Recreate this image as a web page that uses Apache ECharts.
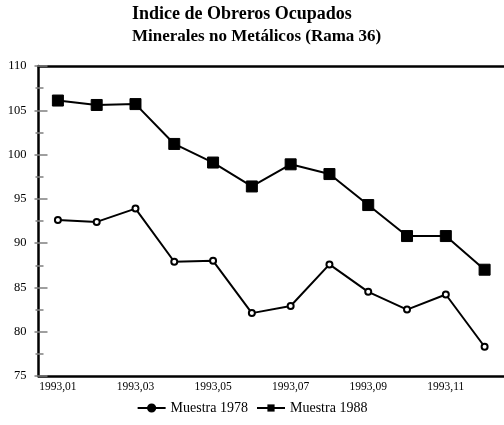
<!DOCTYPE html>
<html lang="es">
<head>
<meta charset="UTF-8">
<title>Indice de Obreros Ocupados</title>
<script src="https://cdn.jsdelivr.net/npm/echarts@6/dist/echarts.min.js"></script>
<style>
  html, body { margin: 0; padding: 0; background: #fff; }
</style>
</head>
<body>
<div id="main" style="width:504px;height:425px;"></div>
<script>
// meses (eje x)
var meses = ['1993,01', '1993,02', '1993,03', '1993,04', '1993,05', '1993,06',
             '1993,07', '1993,08', '1993,09', '1993,10', '1993,11', '1993,12'];
// series
var muestra1978 = [92.6, 92.4, 93.9, 87.9, 88.0, 82.1, 82.9, 87.6, 84.5, 82.5, 84.2, 78.3];
var muestra1988 = [106.1, 105.6, 105.7, 101.2, 99.1, 96.4, 98.9, 97.8, 94.3, 90.8, 90.8, 87.0];

var serif = 'Liberation Serif';
var tickGrey = '#808080';

var myChart = echarts.init(document.getElementById('main'));

var option = {
    backgroundColor: '#fff',
    animation: false,
    title: [{
        text: 'Indice de Obreros Ocupados',
        left: 127, top: 0,
        textStyle: { fontFamily: serif, fontSize: 18, fontWeight: 'bold', color: '#000' }
    }, {
        text: 'Minerales no Metálicos (Rama 36)',
        left: 127, top: 23,
        textStyle: { fontFamily: serif, fontSize: 17, fontWeight: 'bold', color: '#000' }
    }],
    legend: {
        bottom: 5,
        left: 'center',
        itemWidth: 28,
        itemHeight: 9,
        itemGap: 8,
        textStyle: { fontFamily: serif, fontSize: 14, color: '#000' },
        data: [
            { name: 'Muestra 1978', itemStyle: { color: '#000', borderColor: '#000' } },
            { name: 'Muestra 1988' }
        ]
    },
    grid: { left: 38.5, right: -1.5, top: 66, bottom: 49 },
    xAxis: [{
        type: 'category',
        data: meses,
        position: 'bottom',
        axisLine: { lineStyle: { color: '#000', width: 2.5 } },
        axisTick: { alignWithLabel: true, interval: 0, length: 4, lineStyle: { color: tickGrey, width: 1.5 } },
        axisLabel: { interval: 1, margin: 5, fontFamily: serif, fontSize: 11.5, color: '#000' },
        splitLine: { show: false }
    }, {
        type: 'category',
        data: meses,
        position: 'bottom',
        axisLine: { show: false },
        axisTick: { alignWithLabel: true, interval: 0, inside: true, length: 4, lineStyle: { color: tickGrey, width: 1.5 } },
        axisLabel: { show: false },
        splitLine: { show: false }
    }, {
        type: 'category',
        data: meses,
        position: 'top',
        axisLine: { lineStyle: { color: '#000', width: 2.5 } },
        axisTick: { show: false },
        axisLabel: { show: false },
        splitLine: { show: false }
    }],
    yAxis: [{
        type: 'value',
        min: 75, max: 110, interval: 5,
        position: 'left',
        axisLine: { show: true, lineStyle: { color: '#000', width: 2.5 } },
        axisTick: { show: true, length: 4, lineStyle: { color: tickGrey, width: 1.5 } },
        minorTick: { show: true, splitNumber: 2, length: 3, lineStyle: { color: tickGrey, width: 1.5 } },
        axisLabel: { margin: 12, fontFamily: serif, fontSize: 12.5, color: '#000' },
        splitLine: { show: false }
    }, {
        type: 'value',
        min: 75, max: 110, interval: 5,
        position: 'left',
        axisLine: { show: false },
        axisTick: { show: true, inside: true, length: 9, lineStyle: { color: tickGrey, width: 1.5 } },
        minorTick: { show: true, splitNumber: 2, length: 5, lineStyle: { color: tickGrey, width: 1.5 } },
        axisLabel: { show: false },
        splitLine: { show: false }
    }],
    series: [{
        name: 'Muestra 1978',
        type: 'line',
        data: muestra1978,
        symbol: 'circle',
        symbolSize: 6,
        itemStyle: { color: '#fff', borderColor: '#000', borderWidth: 2 },
        lineStyle: { color: '#000', width: 2 }
    }, {
        name: 'Muestra 1988',
        type: 'line',
        data: muestra1988,
        symbol: 'rect',
        symbolSize: 11,
        itemStyle: { color: '#000', borderColor: '#000' },
        lineStyle: { color: '#000', width: 2 }
    }]
};

myChart.setOption(option);
</script>
</body>
</html>
